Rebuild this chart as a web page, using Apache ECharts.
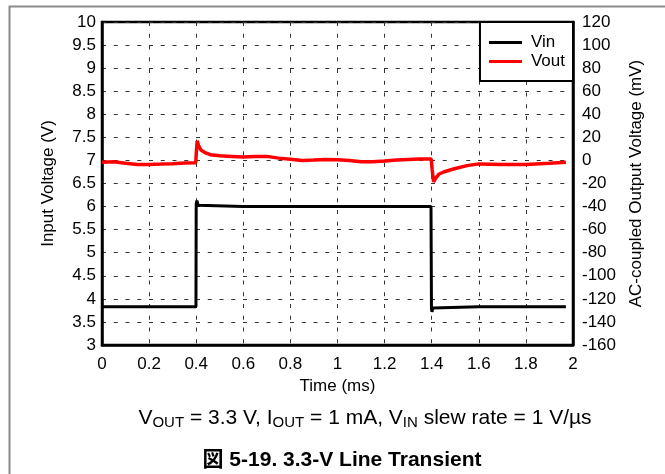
<!DOCTYPE html>
<html>
<head>
<meta charset="utf-8">
<script src="https://cdn.jsdelivr.net/npm/echarts@6/dist/echarts.min.js"></script>
<style>
html,body{margin:0;padding:0;background:#fff;}
#chart{width:665px;height:474px;}
</style>
</head>
<body>
<div id="chart"></div>
<script>
// ---- data ----
var xTickLabels = ['0','0.2','0.4','0.6','0.8','1','1.2','1.4','1.6','1.8','2'];
var vinTime = [0, 0.399, 0.400, 0.403, 0.408, 0.416, 0.6, 0.8, 1.0, 1.2, 1.397, 1.399, 1.401, 1.405, 1.41, 1.6, 1.8, 1.97];
var vinValue = [3.83, 3.83, 6.05, 6.13, 6.03, 6.0, 6.0, 6.0, 6.0, 6.0, 6.0, 3.78, 3.72, 3.80, 3.83, 3.83, 3.83, 3.83];
var voutTime = [0, 0.05, 0.1, 0.15, 0.2, 0.25, 0.3, 0.35, 0.398, 0.400, 0.404, 0.41, 0.42, 0.44, 0.46, 0.5, 0.55, 0.6, 0.65, 0.7, 0.75, 0.8, 0.85, 0.9, 0.95, 1.0, 1.05, 1.1, 1.15, 1.2, 1.25, 1.3, 1.35, 1.398, 1.402, 1.408, 1.415, 1.43, 1.45, 1.5, 1.55, 1.6, 1.7, 1.8, 1.9, 1.97];
var voutValue = [-1.5, -1.2, -2.5, -3.5, -3.5, -3.2, -2.8, -2.3, -2, 5, 17, 13, 9, 6.5, 5, 4, 3.5, 3, 3.5, 3.5, 2, 1, 0, 0.3, 0.8, 0.5, 0, -1.2, -1.2, -0.5, 0.3, 0.8, 1.3, 1.2, -8, -18.5, -16, -12, -10, -7, -4.5, -3, -3.5, -3.5, -2.5, -1.5];
var seriesNames = ['Vin', 'Vout'];
var xAxisName = 'Time (ms)';
var yLeftName = 'Input Voltage (V)';
var yRightName = 'AC-coupled Output Voltage (mV)';
var captionText = 'V{sub|OUT} = 3.3 V, I{sub|OUT} = 1 mA, V{sub|IN} slew rate = 1 V/µs';
var figureTitle = '図 5-19. 3.3-V Line Transient';

function pairs(xs, ys){ var out=[]; for(var i=0;i<xs.length;i++) out.push([xs[i], ys[i]]); return out; }

var FONT = '"Liberation Sans", Arial, sans-serif';
var gridDash = { color: '#333', width: 1, type: [4, 7.75] };

var chart = echarts.init(document.getElementById('chart'), null, {renderer:'canvas'});
chart.setOption({
  animation: false,
  backgroundColor: '#fff',
  textStyle: { fontFamily: FONT, color: '#000' },
  grid: { left: 102, right: 92, top: 22, bottom: 129, show: true, borderColor: '#000', borderWidth: 2.5, backgroundColor: 'transparent' },
  legend: {
    data: seriesNames,
    orient: 'vertical',
    right: 92, top: 22,
    backgroundColor: '#fff',
    borderColor: '#000', borderWidth: 2,
    padding: [12, 8, 11, 9],
    itemGap: 2,
    itemWidth: 33, itemHeight: 3,
    icon: 'rect',
    textStyle: { fontFamily: FONT, fontSize: 17, color: '#000', padding: [0, 0, 0, 4] }
  },
  xAxis: {
    type: 'value', min: 0, max: 2, interval: 0.2,
    name: xAxisName, nameLocation: 'middle', nameGap: 27,
    nameTextStyle: { fontFamily: FONT, fontSize: 17, color: '#000' },
    axisLine: { show: true, onZero: false, lineStyle: { color: '#000', width: 2.5 } },
    axisTick: { show: false },
    axisLabel: { fontFamily: FONT, fontSize: 17, color: '#000', margin: 11,
      formatter: function(v){ return xTickLabels[Math.round(v / 0.2)]; } },
    splitLine: { show: true, lineStyle: gridDash }
  },
  yAxis: [{
    type: 'value', min: 3, max: 10, interval: 0.5, position: 'left',
    name: yLeftName, nameLocation: 'middle', nameGap: 45,
    nameTextStyle: { fontFamily: FONT, fontSize: 17, color: '#000' },
    axisLine: { show: true, lineStyle: { color: '#000', width: 2.5 } },
    axisTick: { show: false },
    axisLabel: { fontFamily: FONT, fontSize: 17, color: '#000', margin: 6 },
    splitLine: { show: true, lineStyle: gridDash }
  }, {
    type: 'value', min: -160, max: 120, interval: 20, position: 'right',
    name: yRightName, nameLocation: 'middle', nameGap: 55,
    nameTextStyle: { fontFamily: FONT, fontSize: 17, color: '#000' },
    axisLine: { show: true, lineStyle: { color: '#000', width: 2.5 } },
    axisTick: { show: false },
    axisLabel: { fontFamily: FONT, fontSize: 17, color: '#000', margin: 9 },
    splitLine: { show: false }
  }],
  series: [{
    name: seriesNames[0], type: 'line', yAxisIndex: 0,
    data: pairs(vinTime, vinValue),
    showSymbol: false, symbol: 'none',
    lineStyle: { color: '#000', width: 3 }, itemStyle: { color: '#000' },
    z: 3
  }, {
    name: seriesNames[1], type: 'line', yAxisIndex: 1,
    data: pairs(voutTime, voutValue),
    showSymbol: false, symbol: 'none',
    lineStyle: { color: '#ff0000', width: 3.5 }, itemStyle: { color: '#ff0000' },
    z: 3
  }],
  graphic: [{
    type: 'rect', left: 7, top: 4, silent: true, z: -10,
    shape: { x: 0, y: 0, width: 720, height: 520 },
    style: { fill: null, stroke: '#8a8a8a', lineWidth: 2 }
  }, {
    type: 'text', x: 365, y: 418, silent: true,
    style: {
      text: captionText, align: 'center', verticalAlign: 'middle',
      fontFamily: FONT, fontSize: 21, fill: '#000',
      rich: { sub: { fontFamily: FONT, fontSize: 15, fill: '#000', padding: [10, 0, 0, 0] } }
    }
  }, {
    type: 'text', x: 342, y: 460, silent: true,
    style: {
      text: figureTitle, align: 'center', verticalAlign: 'middle',
      fontFamily: '"Liberation Sans", "Noto Sans CJK JP", Arial, sans-serif', fontWeight: 'bold', fontSize: 21, fill: '#000'
    }
  }]
});
</script>
</body>
</html>
